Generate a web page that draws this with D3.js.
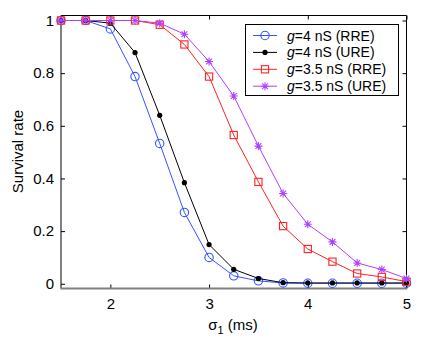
<html>
<head>
<script src="https://d3js.org/d3.v7.min.js"></script>
<style>
  body { margin: 0; background: #fff; }
  text { font-family: "Liberation Sans", Arial, sans-serif; }
</style>
</head>
<body>
<script>
var sigma = [1.5, 1.75, 2, 2.25, 2.5, 2.75, 3, 3.25, 3.5, 3.75, 4, 4.25, 4.5, 4.75, 5];
var g4RRE  = [1, 1, 0.968, 0.787, 0.533, 0.271, 0.100, 0.030, 0.011, 0.003, 0.002, 0.002, 0.002, 0.002, 0.002];
var g4URE  = [1, 1, 0.99, 0.878, 0.64, 0.384, 0.149, 0.055, 0.02, 0.004, 0.003, 0.003, 0.003, 0.003, 0.003];
var g35RRE = [1, 1, 1, 1, 0.984, 0.909, 0.787, 0.565, 0.387, 0.219, 0.132, 0.084, 0.039, 0.026, 0.008];
var g35URE = [1, 1, 1, 1, 0.99, 0.948, 0.844, 0.713, 0.523, 0.343, 0.226, 0.159, 0.079, 0.054, 0.02];
var xTicks = [2, 3, 4, 5];
var yTicks = [0, 0.2, 0.4, 0.6, 0.8, 1];

var series = [
    {name: "=4 nS (RRE)", values: g4RRE, color: "#3355ff", marker: "circle"},
    {name: "=4 nS (URE)", values: g4URE, color: "#000000", marker: "dot"},
    {name: "=3.5 nS (RRE)", values: g35RRE, color: "#ff2222", marker: "square"},
    {name: "=3.5 nS (URE)", values: g35URE, color: "#b040ff", marker: "star"}
];

var width = 425, height = 346;
var plotLeft = 61, plotRight = 406.5, plotTop = 15.5, plotBottom = 288.5;

var svg = d3.select("body").append("svg")
    .attr("width", width)
    .attr("height", height);

var x = d3.scaleLinear().domain([1.5, 5]).range([plotLeft, plotRight]);
var y = d3.scaleLinear().domain([-0.018, 1.019]).range([plotBottom, plotTop]);

// ticks, pointing inward on all four sides
svg.append("g")
    .attr("transform", "translate(0," + plotBottom + ")")
    .call(d3.axisBottom(x).tickValues(xTicks).tickSize(-4).tickPadding(10).tickFormat(d3.format("d")))
    .call(g => g.select(".domain").remove());
svg.append("g")
    .attr("transform", "translate(0," + plotTop + ")")
    .call(d3.axisTop(x).tickValues(xTicks).tickSize(-4).tickFormat(""))
    .call(g => g.select(".domain").remove());
svg.append("g")
    .attr("transform", "translate(" + plotLeft + ",0)")
    .call(d3.axisLeft(y).tickValues(yTicks).tickSize(-4).tickPadding(7).tickFormat(d => String(+d.toFixed(1))))
    .call(g => g.select(".domain").remove());
svg.append("g")
    .attr("transform", "translate(" + plotRight + ",0)")
    .call(d3.axisRight(y).tickValues(yTicks).tickSize(-4).tickFormat(""))
    .call(g => g.select(".domain").remove());

svg.selectAll(".tick text")
    .attr("font-size", 15)
    .attr("font-family", "Liberation Sans, Arial, sans-serif")
    .attr("fill", "#000");
svg.selectAll(".tick line").attr("stroke", "#000");

// frame
svg.append("path")
    .attr("d", "M" + plotLeft + "," + plotBottom + "V" + plotTop + "H" + plotRight + "V" + plotBottom)
    .attr("fill", "none")
    .attr("stroke", "#000")
    .attr("stroke-width", 1);
svg.append("line")
    .attr("x1", plotLeft - 0.5).attr("x2", plotRight + 0.5)
    .attr("y1", plotBottom).attr("y2", plotBottom)
    .attr("stroke", "#808080")
    .attr("stroke-width", 2);

var line = d3.line()
    .x((d, i) => x(sigma[i]))
    .y(d => y(d));

function drawMarker(g, type, color) {
    if (type === "circle") {
        g.append("circle").attr("r", 4.2).attr("fill", "none").attr("stroke", color).attr("stroke-width", 1.1);
    } else if (type === "dot") {
        g.append("circle").attr("r", 2.6).attr("fill", color);
    } else if (type === "square") {
        g.append("rect").attr("x", -3.6).attr("y", -3.6).attr("width", 7.2).attr("height", 7.2)
            .attr("fill", "none").attr("stroke", color).attr("stroke-width", 1.1);
    } else {
        g.append("path").attr("d", "M-4,0H4M0,-4V4M-2.9,-2.9L2.9,2.9M-2.9,2.9L2.9,-2.9")
            .attr("stroke", color).attr("stroke-width", 1.1);
    }
}

series.forEach(s => {
    svg.append("path")
        .attr("d", line(s.values))
        .attr("fill", "none")
        .attr("stroke", s.color)
        .attr("stroke-width", 1);
    s.values.forEach((v, i) => {
        var g = svg.append("g").attr("transform", "translate(" + x(sigma[i]) + "," + y(v) + ")");
        drawMarker(g, s.marker, s.color);
    });
});

// legend
var lg = svg.append("g");
lg.append("rect")
    .attr("x", 245.5).attr("y", 24.5).attr("width", 153).attr("height", 71)
    .attr("fill", "#fff").attr("stroke", "#000").attr("stroke-width", 1);
series.forEach((s, i) => {
    var cy = 35.5 + i * 16.9;
    lg.append("line").attr("x1", 253).attr("x2", 277).attr("y1", cy).attr("y2", cy)
        .attr("stroke", s.color).attr("stroke-width", 1);
    var m = lg.append("g").attr("transform", "translate(265," + cy + ")");
    drawMarker(m, s.marker, s.color);
    var t = lg.append("text").attr("x", 287).attr("y", cy + 5).attr("font-size", 14);
    t.append("tspan").attr("font-style", "italic").text("g");
    t.append("tspan").text(s.name);
});

// axis labels
var xl = svg.append("text")
    .attr("x", 233).attr("y", 330)
    .attr("text-anchor", "middle")
    .attr("font-size", 15);
xl.append("tspan").text("σ");
xl.append("tspan").attr("font-size", 11).attr("dy", 4).text("1");
xl.append("tspan").attr("dy", -4).text(" (ms)");

svg.append("text")
    .attr("transform", "translate(23,151.5) rotate(-90)")
    .attr("text-anchor", "middle")
    .attr("font-size", 15)
    .text("Survival rate");
</script>
</body>
</html>
